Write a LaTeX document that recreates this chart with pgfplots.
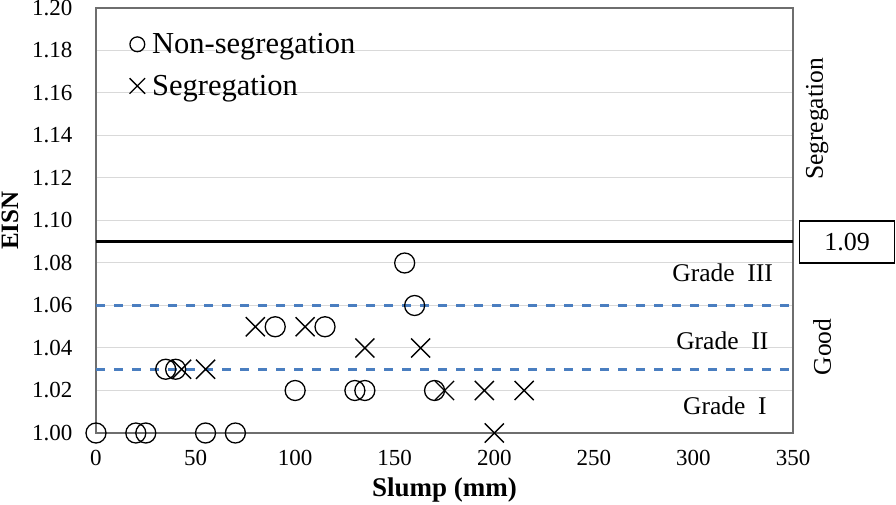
\documentclass[border=0pt]{standalone}
\usepackage{pgfplots}
\pgfplotsset{compat=1.18}
\usepackage{fontspec}
\setmainfont{Liberation Serif}
\definecolor{dashblue}{HTML}{4A7EC0}
\definecolor{gridgray}{HTML}{D9D9D9}
\definecolor{axgray}{HTML}{6E6E6E}
\begin{document}
\begin{tikzpicture}[x=1pt,y=1pt]
\useasboundingbox (-96,-72) rectangle (800,433);
\begin{axis}[
  at={(0,0)}, anchor=south west,
  scale only axis, width=697pt, height=425pt,
  xmin=0, xmax=350, ymin=1.0, ymax=1.2,
  xtick={0,50,...,350},
  ytick={1.00,1.02,...,1.201},
  ymajorgrids, grid style={gridgray, line width=1pt},
  major tick length=0pt,
  axis line style={axgray, line width=1.2pt},
  /pgf/number format/assume math mode=true,
  yticklabel style={/pgf/number format/fixed, /pgf/number format/fixed zerofill, /pgf/number format/precision=2},
  yticklabel style={font=\fontsize{23}{27}\selectfont, xshift=-20pt},
  xticklabel style={font=\fontsize{23}{27}\selectfont, yshift=-14pt},
  xlabel={\textbf{Slump (mm)}},
  ylabel={\textbf{EISN}},
  xlabel style={font=\fontsize{27}{32}\selectfont, at={(rel axis cs:0.5,0)}, anchor=center, yshift=-57pt},
  ylabel style={font=\fontsize{25}{30}\selectfont, at={(rel axis cs:0,0.5)}, anchor=center, yshift=86pt},
  clip=false,
  legend style={draw=none, fill=none, at={(rel axis cs:0.045,0.95)}, anchor=north west,
    font=\fontsize{30.5}{36}\selectfont, row sep=16pt, inner sep=2pt,
    /tikz/every odd column/.style={column sep=5pt}},
  legend cell align=left,
  legend image code/.code={\draw[#1, line width=1.3pt] plot coordinates {(0pt,0pt)};},
]
\addplot[only marks, mark=o, mark size=10pt, line width=1.3pt, black,
  legend image post style={mark size=7.4pt}]
  coordinates {(0,1.00)(20,1.00)(25,1.00)(55,1.00)(70,1.00)(35,1.03)(40,1.03)(90,1.05)(115,1.05)(100,1.02)(130,1.02)(135,1.02)(155,1.08)(160,1.06)(170,1.02)};
\addlegendentry{Non-segregation}
\addplot[only marks, mark=x, mark size=13.5pt, line width=1.4pt, black,
  legend image post style={mark size=11pt}]
  coordinates {(43,1.03)(55,1.03)(80,1.05)(105,1.05)(135,1.04)(163,1.04)(175,1.02)(195,1.02)(215,1.02)(200,1.00)};
\addlegendentry{Segregation}
\addplot[black, line width=2.7pt, forget plot] coordinates {(0,1.09)(350,1.09)};
\addplot[dashblue, line width=2.7pt, dash pattern=on 9pt off 9pt, forget plot] coordinates {(0,1.06)(348,1.06)};
\addplot[dashblue, line width=2.7pt, dash pattern=on 9pt off 9pt, forget plot] coordinates {(0,1.03)(348,1.03)};
\node[font=\fontsize{25.5}{30}\selectfont] at (axis cs:314.7,1.0753) {Grade\ \ III};
\node[font=\fontsize{25.5}{30}\selectfont] at (axis cs:314.5,1.0433) {Grade\ \ II};
\node[font=\fontsize{25.5}{30}\selectfont] at (axis cs:315.8,1.0127) {Grade\ \ I};
\node[font=\fontsize{25.5}{30}\selectfont, rotate=90] at (axis cs:362.1,1.1478) {Segregation};
\node[font=\fontsize{25.5}{30}\selectfont, rotate=90] at (axis cs:364.6,1.0405) {Good};
\node[font=\fontsize{26}{30}\selectfont, draw=black, line width=1.3pt, minimum width=95pt, minimum height=42pt, inner sep=0pt] at (axis cs:377.2,1.0899) {1.09};
\end{axis}
\end{tikzpicture}
\end{document}
